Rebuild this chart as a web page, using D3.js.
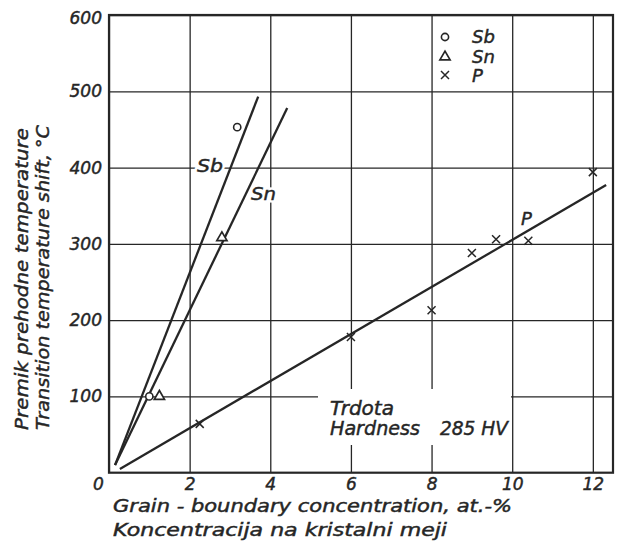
<!DOCTYPE html>
<html>
<head>
<meta charset="utf-8">
<script src="https://cdn.jsdelivr.net/npm/d3@7"></script>
<style>
  html, body { margin: 0; padding: 0; background: #fff; }
  svg { display: block; }
  text { font-family: "DejaVu Sans", sans-serif; font-style: italic; fill: #262626; stroke: #262626; stroke-width: 0.45px; }
  text.halo { fill: #fff; stroke: #fff; stroke-width: 5px; }
</style>
</head>
<body>
<svg id="chart" width="621" height="553"></svg>
<script>
// ---- data ----
const xTicks = [0, 2, 4, 6, 8, 10, 12];
const yTicks = [100, 200, 300, 400, 500, 600];

const sbX = [1.0, 3.18];
const sbY = [100, 453];
const snX = [1.25, 2.8];
const snY = [100, 308];
const pX = [2.25, 6.0, 8.0, 9.0, 9.6, 10.4, 12.0];
const pY = [64, 178, 213, 288, 306, 304, 394];

// fitted lines (end points)
const sbLineX = [0.15, 3.7];
const sbLineY = [10, 493];
const snLineX = [0.15, 4.42];
const snLineY = [10, 478];
const pLineX = [0.27, 12.33];
const pLineY = [5, 377];

const seriesNames = ["Sb", "Sn", "P"];

// ---- chart ----
const svg = d3.select("#chart");
const x = d3.scaleLinear().domain([0, 12.5]).range([109, 613]);
const y = d3.scaleLinear().domain([0, 600]).range([472.7, 15]);
const ink = "#262626";

// grid + tick labels via axes
const gx = svg.append("g").attr("transform", `translate(0,${y(0)})`)
  .call(d3.axisBottom(x).tickValues(xTicks).tickSize(-(y(0) - y(600))).tickPadding(5.5).tickFormat(d3.format("d")));
const gy = svg.append("g").attr("transform", `translate(${x(0)},0)`)
  .call(d3.axisLeft(y).tickValues(yTicks).tickSize(-(x(12.5) - x(0))).tickPadding(7).tickFormat(d3.format("d")));
[gx, gy].forEach(g => {
  g.attr("font-size", 17).attr("font-family", null);
  g.select(".domain").remove();
  g.selectAll("line").attr("stroke", ink).attr("stroke-width", 1.3);
  g.selectAll("text").attr("fill", ink);
});
gx.selectAll(".tick").filter(d => d === 0).select("text").attr("dx", -11);
gy.selectAll(".tick").filter(d => d === 600).select("text").attr("dy", "0.5em");

// gap in grid behind the hardness note
svg.append("rect").attr("x", 318).attr("y", 389).attr("width", 193).attr("height", 56).attr("fill", "#fff");

// frame
svg.append("rect").attr("x", x(0)).attr("y", y(600))
  .attr("width", x(12.5) - x(0)).attr("height", y(0) - y(600))
  .attr("fill", "none").attr("stroke", ink).attr("stroke-width", 2.2);

// hardness note
svg.append("text").attr("x", 330).attr("y", 415).attr("font-size", 19).attr("textLength", 64).attr("lengthAdjust", "spacingAndGlyphs").text("Trdota");
svg.append("text").attr("x", 330).attr("y", 435).attr("font-size", 19).attr("textLength", 90).attr("lengthAdjust", "spacingAndGlyphs").text("Hardness");
svg.append("text").attr("x", 440).attr("y", 435).attr("font-size", 19).attr("textLength", 68).attr("lengthAdjust", "spacingAndGlyphs").text("285 HV");

// line labels with white halo (to break the grid)
const lineLabel = (tx, ty, len, s) => {
  svg.append("text").attr("class", "halo").attr("x", tx).attr("y", ty).attr("font-size", 18)
    .attr("textLength", len).attr("lengthAdjust", "spacingAndGlyphs").text(s);
  svg.append("text").attr("x", tx).attr("y", ty).attr("font-size", 18)
    .attr("textLength", len).attr("lengthAdjust", "spacingAndGlyphs").text(s);
};
lineLabel(197, 172, 26, seriesNames[0]);
lineLabel(251, 200, 25, seriesNames[1]);
svg.append("text").attr("x", 521).attr("y", 225).attr("font-size", 18).text(seriesNames[2]);

// fitted lines
const line = d3.line().x(d => x(d[0])).y(d => y(d[1]));
[[sbLineX, sbLineY], [snLineX, snLineY], [pLineX, pLineY]].forEach(([xs, ys]) => {
  svg.append("path").datum(xs.map((v, i) => [v, ys[i]]))
    .attr("d", line).attr("fill", "none").attr("stroke", ink).attr("stroke-width", 2.3);
});

// markers
const circ = (g, cx, cy) => g.append("circle").attr("cx", cx).attr("cy", cy).attr("r", 3.6)
  .attr("fill", "#fff").attr("stroke", ink).attr("stroke-width", 1.6);
const tri = (g, cx, cy) => g.append("path").attr("transform", `translate(${cx},${cy})`)
  .attr("d", d3.symbol(d3.symbolTriangle, 45)()).attr("fill", "#fff").attr("stroke", ink).attr("stroke-width", 1.7);
const cross = (g, cx, cy) => g.append("path").attr("transform", `translate(${cx},${cy})`)
  .attr("d", "M-4,-4L4,4M-4,4L4,-4").attr("fill", "none").attr("stroke", ink).attr("stroke-width", 1.5);

const mk = svg.append("g");
sbX.forEach((v, i) => circ(mk, x(v), y(sbY[i])));
snX.forEach((v, i) => tri(mk, x(v), y(snY[i])));
pX.forEach((v, i) => cross(mk, x(v), y(pY[i])));

// legend
const lg = svg.append("g");
circ(lg, 445, 37);
tri(lg, 445, 57);
cross(lg, 445, 75);
seriesNames.forEach((n, i) => {
  lg.append("text").attr("x", 472).attr("y", 43 + i * 19.5).attr("font-size", 18).text(n);
});

// axis titles
svg.append("text").attr("x", 113).attr("y", 512).attr("font-size", 17.5)
  .attr("textLength", 399).attr("lengthAdjust", "spacingAndGlyphs")
  .text("Grain - boundary  concentration, at.-%");
svg.append("text").attr("x", 113).attr("y", 536).attr("font-size", 17.5)
  .attr("textLength", 334).attr("lengthAdjust", "spacingAndGlyphs")
  .text("Koncentracija  na  kristalni  meji");
svg.append("text").attr("transform", "translate(28,430) rotate(-90)").attr("font-size", 18)
  .attr("textLength", 302).attr("lengthAdjust", "spacingAndGlyphs")
  .text("Premik  prehodne  temperature");
svg.append("text").attr("transform", "translate(49,430) rotate(-90)").attr("font-size", 18)
  .attr("textLength", 305).attr("lengthAdjust", "spacingAndGlyphs")
  .text("Transition  temperature  shift, °C");
</script>
</body>
</html>
